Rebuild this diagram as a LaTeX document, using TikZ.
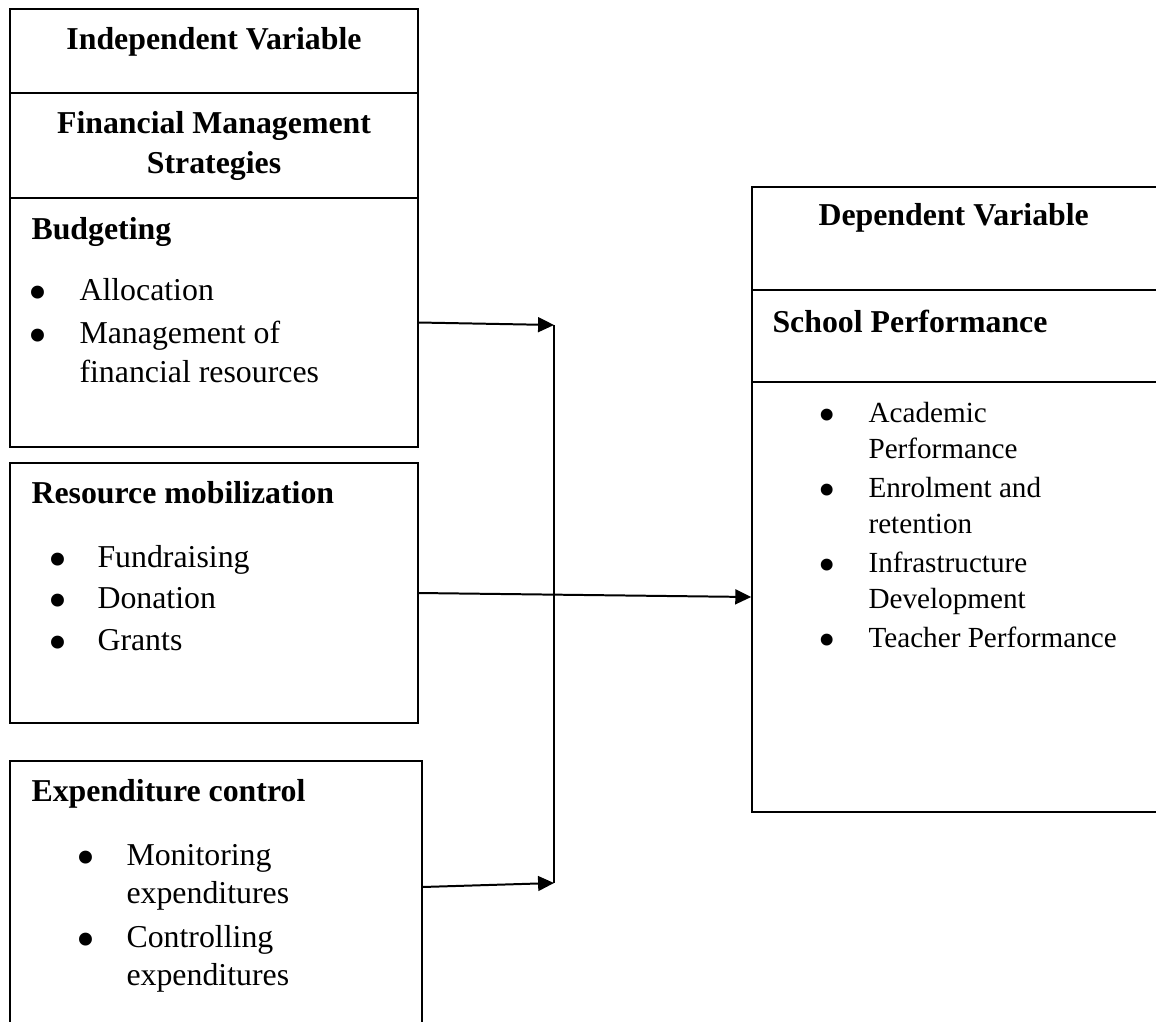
\documentclass[tikz,border=0pt]{standalone}
\usepackage{fontspec}
\setmainfont{Liberation Serif}
\usetikzlibrary{
    arrows.meta,
    fit
}
\newcommand{\bigbullet}{\raisebox{-4pt}[5pt][0pt]{\scalebox{1.7}{\textbullet}}}
\newcommand{\smallbullet}{\raisebox{-3.7pt}[5pt][0pt]{\scalebox{1.7}{\textbullet}}}
\tikzset{
    box/.style={
        rectangle,
        draw=black,
        line width=0.6pt,
        inner sep=0pt
    },
    heading/.style={
        inner sep=0pt,
        anchor=base,
        font=\fontsize{12}{14}\selectfont\bfseries
    },
    boxtitle/.style={
        inner sep=0pt,
        anchor=base west,
        font=\fontsize{12}{14}\selectfont\bfseries
    },
    itemtext/.style={
        inner sep=0pt,
        anchor=base west,
        font=\fontsize{12}{14}\selectfont
    },
    smallitem/.style={
        inner sep=0pt,
        anchor=base west,
        font=\fontsize{11}{13}\selectfont
    },
    arrow/.style={
        -{Triangle[length=6pt, width=5.6pt]},
        line width=0.75pt
    },
    joinline/.style={
        line width=0.6pt
    }
}

\begin{document}
\begin{tikzpicture}[x=0.377pt, y=-0.377pt]
\clip (0,0) rectangle (1156,1021);

% independent variable column
\node[box, fit={(10,9) (418,93)}] (ivhead) {};
\node[box, fit={(10,93) (418,198)}] (fmshead) {};
\node[box, fit={(10,198) (418,447)}] (budget) {};
\node[box, fit={(10,463) (418,723)}] (resource) {};
\node[box, fit={(10,761) (422,1040)}] (expend) {};

\node[heading] (ivtext) at (214,49) {Independent Variable};
\node[heading] (fmstext) at (214,133) {Financial Management};
\node[heading] (fmstextb) at (214,173) {Strategies};

\node[boxtitle] (budgettitle) at (31,239) {Budgeting};
\node[itemtext] (budgetba) at (27.5,300) {\bigbullet};
\node[itemtext] (alloc) at (79,300) {Allocation};
\node[itemtext] (budgetbb) at (27.5,343) {\bigbullet};
\node[itemtext] (mgmt) at (79,343) {Management of};
\node[itemtext] (mgmtb) at (79,382) {financial resources};

\node[boxtitle] (resourcetitle) at (31,503) {Resource mobilization};
\node[itemtext] (resba) at (47.5,567) {\bigbullet};
\node[itemtext] (fund) at (97,567) {Fundraising};
\node[itemtext] (resbb) at (47.5,608) {\bigbullet};
\node[itemtext] (donat) at (97,608) {Donation};
\node[itemtext] (resbc) at (47.5,650) {\bigbullet};
\node[itemtext] (grant) at (97,650) {Grants};

\node[boxtitle] (expendtitle) at (31,801) {Expenditure control};
\node[itemtext] (expba) at (75.5,865) {\bigbullet};
\node[itemtext] (monit) at (126,865) {Monitoring};
\node[itemtext] (monitb) at (126,903) {expenditures};
\node[itemtext] (expbb) at (75.5,947) {\bigbullet};
\node[itemtext] (contr) at (126,947) {Controlling};
\node[itemtext] (contrb) at (126,985) {expenditures};

% dependent variable column
\node[box, fit={(752,187) (1170,290)}] (dvhead) {};
\node[box, fit={(752,290) (1170,382)}] (sphead) {};
\node[box, fit={(752,382) (1170,812)}] (spbody) {};

\node[boxtitle] (dvtext) at (818,225) {Dependent Variable};
\node[boxtitle] (sptext) at (772,332) {School Performance};

\node[smallitem] (spba) at (818,422) {\smallbullet};
\node[smallitem] (acad) at (868,422) {Academic};
\node[smallitem] (acadb) at (868,458) {Performance};
\node[smallitem] (spbb) at (818,497) {\smallbullet};
\node[smallitem] (enrol) at (868,497) {Enrolment and};
\node[smallitem] (enrolb) at (868,533) {retention};
\node[smallitem] (spbc) at (818,572) {\smallbullet};
\node[smallitem] (infra) at (868,572) {Infrastructure};
\node[smallitem] (infrab) at (868,608) {Development};
\node[smallitem] (spbd) at (818,647) {\smallbullet};
\node[smallitem] (teach) at (868,647) {Teacher Performance};

% connectors
\coordinate (jtop) at (554,325);
\coordinate (jbot) at (554,883);
\coordinate (expendout) at (422,887);

\draw[arrow] (budget.east) -- (jtop);
\draw[arrow] (expendout) -- (jbot);
\draw[joinline] (jtop) -- (jbot);
\draw[arrow] (resource.east) -- (spbody.west);

\end{tikzpicture}
\end{document}
